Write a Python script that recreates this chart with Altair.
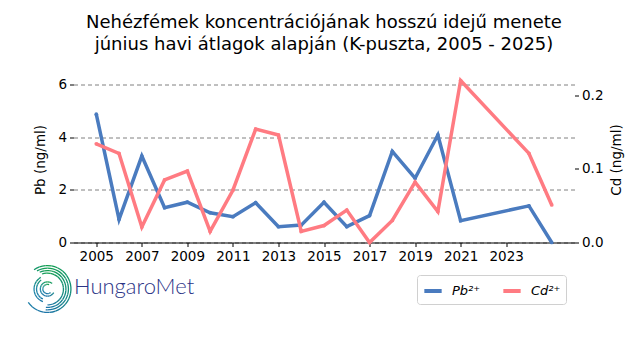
import altair as alt
import pandas as pd
import math

# ---------------- data ----------------
years = [2005, 2006, 2007, 2008, 2009, 2010, 2011, 2012, 2013, 2014, 2015,
         2016, 2017, 2018, 2019, 2020, 2021, 2024, 2025]
pb_values = [4.87, 0.88, 3.28, 1.32, 1.53, 1.13, 0.98, 1.51, 0.60, 0.66, 1.53,
             0.60, 1.02, 3.46, 2.44, 4.08, 0.83, 1.39, 0.0]
cd_values = [0.134, 0.121, 0.021, 0.085, 0.097, 0.015, 0.071, 0.154, 0.146, 0.015, 0.023,
             0.044, 0.000, 0.030, 0.082, 0.042, 0.220, 0.121, 0.051]
x_ticks = [2005, 2007, 2009, 2011, 2013, 2015, 2017, 2019, 2021, 2023]
pb_ticks = [0, 2, 4, 6]
cd_ticks = [0.0, 0.1, 0.2]
series_names = ["Pb²⁺", "Cd²⁺"]
series_colors = ["#4a7bbf", "#ff7b82"]
title_lines = ["Nehézfémek koncentrációjának hosszú idejű menete",
               " június havi átlagok alapján (K-puszta, 2005 - 2025)"]

W, H = 501, 166
FONT = "DejaVu Sans"

pb_df = pd.DataFrame({"year": years, "value": pb_values, "series": series_names[0]})
cd_df = pd.DataFrame({"year": years, "value": cd_values, "series": series_names[1]})

color_scale = alt.Scale(domain=series_names, range=series_colors)
x_enc = alt.X("year:Q",
              scale=alt.Scale(domain=[2004, 2026], nice=False, zero=False),
              axis=alt.Axis(values=x_ticks, format="d", title=None, grid=False,
                            domain=True, domainColor="black", domainWidth=1,
                            tickColor="black", tickSize=4, labelPadding=3))

legend = alt.Legend(title=None, orient="none", legendX=343.5, legendY=198.5,
                    direction="horizontal", symbolType="stroke", symbolStrokeWidth=4,
                    symbolSize=300, labelFontStyle="italic", labelFontSize=13,
                    labelFont=FONT, labelOffset=8, columnPadding=14,
                    strokeColor="#d0d0d0", cornerRadius=3, padding=5, fillColor="white")

pb_line = alt.Chart(pb_df).mark_line(
    strokeWidth=3.5, clip=False,
    point=alt.OverlayMarkDef(size=14, filled=True, clip=False)
).encode(
    x=x_enc,
    y=alt.Y("value:Q", scale=alt.Scale(domain=[0, 6.3], nice=False),
            axis=alt.Axis(values=pb_ticks, title="Pb (ng/ml)", grid=True,
                          gridDash=[4, 3], gridColor="#808080", gridWidth=1,
                          domain=False, tickColor="black", tickSize=4,
                          labelPadding=3, titlePadding=10)),
    color=alt.Color("series:N", scale=color_scale, legend=legend),
)

cd_line = alt.Chart(cd_df).mark_line(
    strokeWidth=3.5, clip=False,
    point=alt.OverlayMarkDef(size=14, filled=True, clip=False)
).encode(
    x=x_enc,
    y=alt.Y("value:Q", scale=alt.Scale(domain=[0, 0.2255], nice=False),
            axis=alt.Axis(values=cd_ticks, format=".1f", title="Cd (ng/ml)",
                          orient="right", grid=False, domain=False,
                          tickColor="black", tickSize=4, labelPadding=3,
                          titleAngle=270, titleX=42, titleY=H / 2,
                          titleAlign="center", titleBaseline="middle")),
    color=alt.Color("series:N", scale=color_scale, legend=legend),
)

# ---------------- HungaroMet logo (decoration) ----------------
def lerp_color(a):
    stops = [(0, (20, 160, 80)), (90, (19, 143, 120)), (180, (29, 116, 168)),
             (270, (32, 136, 168)), (360, (20, 160, 80))]
    a = a % 360
    for (a0, c0), (a1, c1) in zip(stops[:-1], stops[1:]):
        if a0 <= a <= a1:
            t = (a - a0) / (a1 - a0)
            c = [round(c0[i] + (c1[i] - c0[i]) * t) for i in range(3)]
            return "#%02x%02x%02x" % tuple(c)
    return "#14a050"

arc_specs = [  # (start deg, end deg, inner r, outer r)
    (325, 595, 22.8, 24.1),
    (330, 545, 20.3, 21.6),
    (335, 545, 17.8, 19.1),
    (340, 540, 15.3, 16.6),
    (200, 330, 12.8, 14.1),
    (205, 325, 10.3, 11.6),
    (120, 400, 6.5, 7.8),
    (140, 380, 4.0, 5.3),
]
rows = []
for s, e, r1, r2 in arc_specs:
    a = s
    while a < e:
        b = min(a + 15, e)
        rows.append({"t": math.radians(a), "t2": math.radians(b), "r": r1, "r2": r2,
                     "c": lerp_color((a + b) / 2)})
        a = b
logo_df = pd.DataFrame(rows)

logo = alt.Chart(logo_df).mark_arc(stroke=None).encode(
    theta=alt.Theta("t:Q", scale=None),
    theta2="t2:Q",
    radius=alt.Radius("r:Q", scale=None),
    radius2="r2:Q",
    fill=alt.Fill("c:N", scale=None, legend=None),
    x=alt.value(-26),
    y=alt.value(212.5),
)

logo_text = alt.Chart(pd.DataFrame({"t": ["HungaroMet"]})).mark_text(
    align="left", baseline="alphabetic", font="Lato", fontWeight=300,
    fontSize=22, color="#2b3486"
).encode(text="t:N", x=alt.value(0.5), y=alt.value(217.5))

chart = alt.layer(pb_line, cd_line, logo, logo_text).resolve_scale(
    y="independent"
).properties(
    width=W, height=H,
    title=alt.TitleParams(text=title_lines, fontSize=18, font=FONT,
                          fontWeight="normal", anchor="middle", offset=20,
                          lineHeight=22, color="black"),
    autosize=alt.AutoSizeParams(type="none"),
    padding={"left": 65.5, "top": 68.5, "right": 57.5, "bottom": 109.5},
).configure_view(stroke=None).configure_axis(
    labelFont=FONT, titleFont=FONT, labelFontSize=13.5, titleFontSize=13.5,
    titleFontWeight="normal", labelColor="black", titleColor="black"
)

chart.save("out.html", embed_options={"renderer": "svg", "actions": False})
